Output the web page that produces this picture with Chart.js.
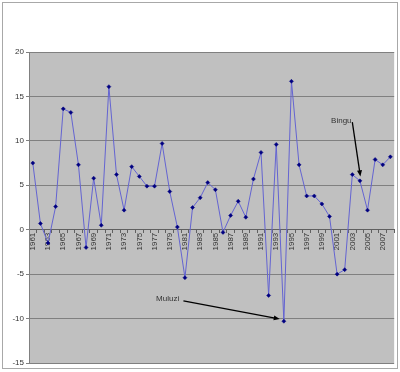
<!DOCTYPE html>
<html>
<head>
<meta charset="utf-8">
<script src="https://cdn.jsdelivr.net/npm/chart.js@4"></script>
<style>
html,body{margin:0;padding:0;background:#fff;}
#wrap{width:400px;height:372px;}
</style>
</head>
<body>
<div id="wrap"><canvas id="c" width="400" height="372"></canvas></div>
<script>
const years = ["1961","1962","1963","1964","1965","1966","1967","1968","1969","1970",
"1971","1972","1973","1974","1975","1976","1977","1978","1979","1980",
"1981","1982","1983","1984","1985","1986","1987","1988","1989","1990",
"1991","1992","1993","1994","1995","1996","1997","1998","1999","2000",
"2001","2002","2003","2004","2005","2006","2007","2008"];
const growth = [7.5,0.7,-1.5,2.6,13.6,13.2,7.3,-2.0,5.8,0.5,
16.1,6.2,2.2,7.1,6.0,4.9,4.9,9.7,4.3,0.3,
-5.4,2.5,3.6,5.3,4.5,-0.3,1.6,3.2,1.4,5.7,
8.7,-7.4,9.6,-10.3,16.7,7.3,3.8,3.8,2.9,1.5,
-5.0,-4.5,6.2,5.5,2.2,7.9,7.3,8.2];
const yMin = -15, yMax = 20, yStep = 5;
// annotations in data units: [label, textIndex, textValue, textAlign, tailIndex, tailValue, headIndex, headValue]
const noteLabels = ["Bingu","Muluzi"];
const noteText = [[41.9,12.3,"right"],[16.2,-7.8,"left"]];
const noteArrows = [[42.0,12.1,43.06,6.0],[19.8,-8.0,32.46,-10.05]];

const bgPlugin = {
  id:'bg',
  beforeDraw(chart){
    const {ctx, chartArea:a} = chart;
    ctx.save();
    ctx.fillStyle='#fff';
    ctx.fillRect(0,0,chart.width,chart.height);
    ctx.strokeStyle='#a8a8a8';
    ctx.lineWidth=1;
    ctx.strokeRect(2.5,2.5,395,366);
    ctx.fillStyle='#c0c0c0';
    ctx.fillRect(a.left,a.top,a.right-a.left,a.bottom-a.top);
    ctx.restore();
  }
};
const notePlugin = {
  id:'notes',
  afterDatasetsDraw(chart){
    const {ctx, scales:{x,y}} = chart;
    ctx.save();
    ctx.font='8px "Liberation Sans", Arial, sans-serif';
    ctx.fillStyle='#333';
    ctx.textBaseline='middle';
    noteLabels.forEach((lab,i)=>{
      const t=noteText[i];
      ctx.textAlign=t[2];
      ctx.fillText(lab,x.getPixelForValue(t[0]),y.getPixelForValue(t[1]));
      const ar=noteArrows[i];
      const x1=x.getPixelForValue(ar[0]), y1=y.getPixelForValue(ar[1]);
      const x2=x.getPixelForValue(ar[2]), y2=y.getPixelForValue(ar[3]);
      const ang=Math.atan2(y2-y1,x2-x1), L=6, W=2.5;
      ctx.strokeStyle='#000'; ctx.fillStyle='#000'; ctx.lineWidth=1.3;
      ctx.beginPath(); ctx.moveTo(x1,y1);
      ctx.lineTo(x2-L*Math.cos(ang)*0.8,y2-L*Math.sin(ang)*0.8); ctx.stroke();
      ctx.beginPath();
      ctx.moveTo(x2,y2);
      ctx.lineTo(x2-L*Math.cos(ang)+W*Math.sin(ang), y2-L*Math.sin(ang)-W*Math.cos(ang));
      ctx.lineTo(x2-L*Math.cos(ang)-W*Math.sin(ang), y2-L*Math.sin(ang)+W*Math.cos(ang));
      ctx.closePath(); ctx.fill();
      ctx.fillStyle='#333';
    });
    ctx.restore();
  }
};

new Chart(document.getElementById('c'),{
  type:'line',
  data:{labels:years,datasets:[{
    data:growth,
    borderColor:'#6464d2',
    borderWidth:1,
    tension:0,
    pointStyle:'rectRot',
    pointRadius:2,
    pointBackgroundColor:'#000080',
    pointBorderColor:'#000080',
    pointBorderWidth:0.5
  }]},
  options:{
    responsive:false,
    animation:false,
    devicePixelRatio:1,
    layout:{padding:{left:0,top:52,right:4,bottom:9}},
    plugins:{legend:{display:false},tooltip:{enabled:false}},
    scales:{
      x:{
        type:'category',
        position:{y:0},
        offset:true,
        grid:{drawOnChartArea:false,drawTicks:true,tickLength:3,offset:true,color:'#606060'},
        border:{display:true,color:'#606060'},
        ticks:{
          autoSkip:false,minRotation:90,maxRotation:90,padding:0,
          color:'#333',font:{family:'"Liberation Sans", Arial, sans-serif',size:8},
          callback:function(v,i){return i%2===0?years[i]:'';}
        }
      },
      y:{
        min:yMin,max:yMax,
        ticks:{stepSize:yStep,padding:2,color:'#333',font:{family:'"Liberation Sans", Arial, sans-serif',size:8}},
        grid:{color:'#808080',lineWidth:1,tickLength:3},
        border:{display:true,color:'#808080'},
        afterFit:function(s){s.width=29;}
      }
    }
  },
  plugins:[bgPlugin,notePlugin]
});
</script>
</body>
</html>
